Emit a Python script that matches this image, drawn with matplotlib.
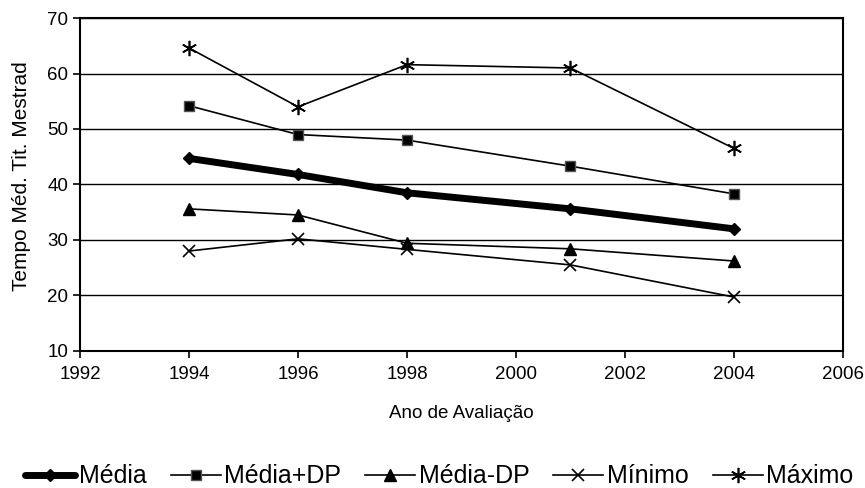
import matplotlib
matplotlib.use("Agg")
import matplotlib.pyplot as plt

plt.rcParams['font.family'] = ['Liberation Sans', 'DejaVu Sans']

anos = [1994, 1996, 1998, 2001, 2004]
media = [44.7, 41.8, 38.5, 35.6, 32.0]
media_mais_dp = [54.2, 49.0, 48.0, 43.3, 38.3]
media_menos_dp = [35.6, 34.5, 29.4, 28.4, 26.2]
minimo = [28.0, 30.2, 28.3, 25.5, 19.7]
maximo = [64.6, 54.0, 61.6, 61.0, 46.5]

xticks = [1992, 1994, 1996, 1998, 2000, 2002, 2004, 2006]
yticks = [10, 20, 30, 40, 50, 60, 70]

fig = plt.figure(figsize=(8.65, 4.88), dpi=100)
ax = fig.add_axes([0.0925, 0.281, 0.882, 0.682])

ax.plot(anos, media, color='black', lw=5, marker='D', ms=6, label='Média', zorder=5,
        solid_capstyle='round', solid_joinstyle='round')
ax.plot(anos, media_mais_dp, color='black', lw=1.2, marker='s', ms=7,
        mfc='black', mec='#555555', label='Média+DP', zorder=4)
ax.plot(anos, media_menos_dp, color='black', lw=1.2, marker='^', ms=8, label='Média-DP', zorder=4)
ax.plot(anos, minimo, color='black', lw=1.2, marker='x', ms=9, mew=1.2, label='Mínimo', zorder=4)
ax.plot(anos, maximo, color='black', lw=1.2, marker=(6, 2, 0), ms=11, mew=1.2, label='Máximo', zorder=4)

ax.set_xlim(1992, 2006)
ax.set_ylim(10, 70)
ax.set_xticks(xticks)
ax.set_yticks(yticks)
ax.yaxis.grid(True, color='black', lw=1)
ax.set_axisbelow(True)
for s in ax.spines.values():
    s.set_linewidth(1.5)
ax.tick_params(axis='both', direction='out', length=5, width=1.2, labelsize=13.5, colors='black')
ax.tick_params(axis='x', pad=6)
ax.set_xlabel('Ano de Avaliação', fontsize=13.5, labelpad=16)
ax.set_ylabel('Tempo Méd. Tit. Mestrad', fontsize=15)
ax.yaxis.set_label_coords(-0.064, 0.525)

fig.legend(loc='center', bbox_to_anchor=(0.508, 0.024), ncol=5, frameon=False,
           fontsize=18, handlelength=2.0, handletextpad=0.15, columnspacing=0.95)

fig.savefig('out.png', dpi=100)
